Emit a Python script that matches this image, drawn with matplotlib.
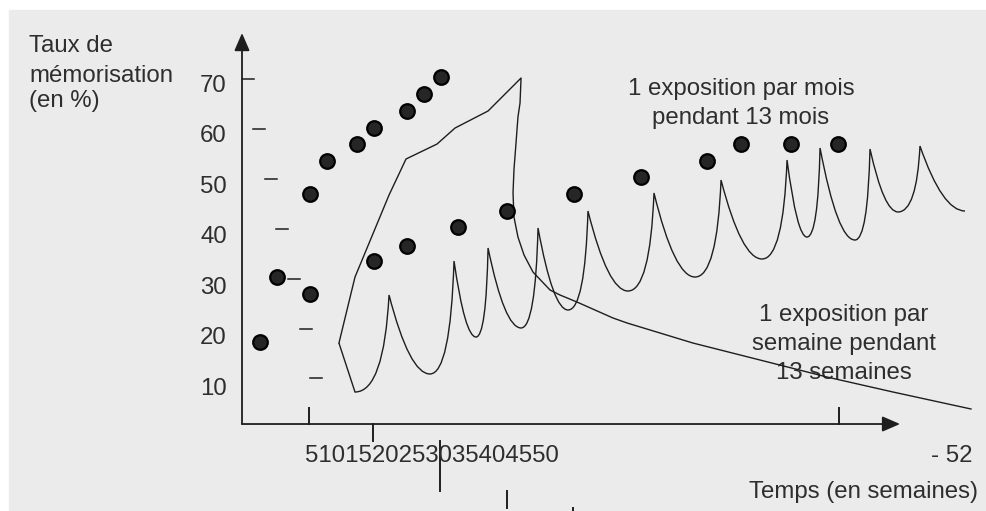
import matplotlib
matplotlib.use('Agg')
import matplotlib.pyplot as plt
from matplotlib.path import Path
from matplotlib.patches import PathPatch, Rectangle

plt.rcParams['font.family'] = ['Liberation Sans', 'DejaVu Sans']

# x en semaines, y en % de mémorisation
y_ticks = [10, 20, 30, 40, 50, 60, 70]
x_tick_labels = [5, 10, 15, 20, 25, 30, 35, 40, 45, 50]

# points : 1 exposition par semaine (série haute) et par mois (série basse)
hebdo_pts_x = [1.57, 3.05, 5.93, 7.42, 10.03, 11.52, 14.40, 15.88, 17.36]
hebdo_pts_y = [18.71, 31.58, 48.02, 54.55, 57.92, 61.09, 64.46, 67.82, 71.19]
mois_pts_x = [5.93, 11.52, 14.40, 18.85, 23.12, 28.97, 34.82, 40.58, 43.54, 47.91, 52.01]
mois_pts_y = [28.22, 34.75, 37.72, 41.49, 44.65, 48.02, 51.39, 54.55, 57.92, 57.92, 57.92]

# courbe hebdo : montée rapide puis oubli
hebdo_x = [8.46, 9.86, 12.83, 14.31, 17.02, 18.59, 21.47, 24.35, 24.26, 24.08, 23.91,
           23.73, 23.65, 23.73, 24.08, 24.61, 25.39, 26.88, 27.75, 29.23, 32.37, 33.60,
           39.35, 45.20, 51.05, 56.81, 63.61]
hebdo_y = [18.51, 31.58, 47.82, 54.95, 57.92, 61.09, 64.46, 70.99, 66.04, 63.27, 58.12,
           52.77, 48.22, 43.47, 39.50, 35.94, 32.57, 29.01, 28.02, 26.63, 23.47, 22.48,
           18.51, 15.15, 11.78, 8.81, 5.45]

# courbe mensuelle : départ, puis creux / pics successifs
mois_x = [8.46, 9.86, 12.83, 16.40, 18.50, 20.42, 21.47, 24.35, 25.83, 28.45, 30.19,
          33.68, 35.95, 39.53, 41.80, 45.38, 47.56, 49.30, 50.44, 53.49, 54.80, 57.24,
          59.16, 63.09]
mois_y = [18.51, 8.81, 28.02, 12.38, 34.75, 19.70, 37.33, 21.49, 41.29, 25.05, 44.65,
          28.81, 48.22, 31.58, 50.79, 35.15, 54.75, 39.50, 57.13, 38.91, 56.93, 44.46,
          57.52, 44.65]

# petits traits le long de l'axe vertical
dash_x = [0.0, 0.96, 2.01, 2.97, 4.01, 5.02, 5.93]
dash_y = [70.8, 60.9, 51.0, 41.1, 31.2, 21.3, 11.6]

# traits verticaux (graduations) autour de l'axe du temps
vtick_x = [5.85, 11.43, 17.28, 23.12, 28.88, 52.09]
vtick_y0 = [5.64, 2.475, -0.89, -10.79, -14.16, 5.64]
vtick_y1 = [2.475, -0.89, -10.79, -14.16, -14.75, 2.475]

ink = '#1e1e1e'
txt = '#2e2e2e'
fs = 17.3

fig = plt.figure(figsize=(9.86, 5.11), dpi=100)
fig.patches.append(Rectangle((9 / 986, 0), 1 - 9 / 986, 501 / 511,
                             transform=fig.transFigure, color='#ebebeb', zorder=-5))
ax = fig.add_axes([0, 0, 1, 1])
ax.set_axis_off()
ax.set_xlim(-21.117, 64.921)
ax.set_ylim(-14.75, 86.44)

# axes avec flèches
arrow = dict(arrowstyle='-|>,head_length=0.6,head_width=0.26', color=ink, lw=1.3,
             mutation_scale=18, shrinkA=0, shrinkB=0)
ax.annotate('', xy=(0, 79.9), xytext=(0, 2.475), arrowprops=arrow)
ax.annotate('', xy=(57.42, 2.475), xytext=(0, 2.475), arrowprops=arrow)

for x, y in zip(dash_x, dash_y):
    ax.plot([x, x + 1.05], [y, y], color=ink, lw=1.1)
for x, a, b in zip(vtick_x, vtick_y0, vtick_y1):
    ax.plot([x, x], [a, b], color=ink, lw=1.4)

# courbes
ax.plot(hebdo_x, hebdo_y, color=ink, lw=1.0, zorder=4)

verts = [(mois_x[0], mois_y[0]), (mois_x[1], mois_y[1])]
codes = [Path.MOVETO, Path.LINETO]
for i in range(1, len(mois_x) - 1):
    x0, y0 = mois_x[i], mois_y[i]
    x1, y1 = mois_x[i + 1], mois_y[i + 1]
    if y1 > y0:
        ctrl = (x0 + 0.85 * (x1 - x0), y0)
    else:
        ctrl = (x0 + 0.5 * (x1 - x0), y1)
    verts += [ctrl, (x1, y1)]
    codes += [Path.CURVE3, Path.CURVE3]
ax.add_patch(PathPatch(Path(verts, codes), fill=False, edgecolor=ink, lw=1.0, zorder=4))

ax.plot(hebdo_pts_x, hebdo_pts_y, 'o', ms=10.5, mfc='#262626', mec='black', mew=1.6, zorder=5)
ax.plot(mois_pts_x, mois_pts_y, 'o', ms=10.5, mfc='#262626', mec='black', mew=1.6, zorder=5)

# textes
for v in y_ticks:
    ax.text(-1.31, v - 1.75, str(v), ha='right', va='baseline', fontsize=fs, color=txt)
ax.text(5.50, -5.05, ''.join(str(v) for v in x_tick_labels), ha='left', va='baseline',
        fontsize=fs, color=txt)
ax.text(63.70, -5.05, '- 52', ha='right', va='baseline', fontsize=fs, color=txt)
ax.text(64.22, -12.18, 'Temps (en semaines)', ha='right', va='baseline', fontsize=fs, color=txt)

for s, yb in zip(['Taux de', 'mémorisation', '(en %)'], [76.14, 70.20, 65.35]):
    ax.text(-18.59, yb, s, ha='left', va='baseline', fontsize=fs, color=txt)
for s, yb in zip(['1 exposition par mois', 'pendant 13 mois'], [67.62, 61.88]):
    ax.text(43.54, yb, s, ha='center', va='baseline', fontsize=fs, color=txt)
for s, yb in zip(['1 exposition par', 'semaine pendant', '13 semaines'], [22.93, 17.13, 11.39]):
    ax.text(52.53, yb, s, ha='center', va='baseline', fontsize=fs, color=txt, zorder=3)

fig.savefig('out.png', dpi=100)
